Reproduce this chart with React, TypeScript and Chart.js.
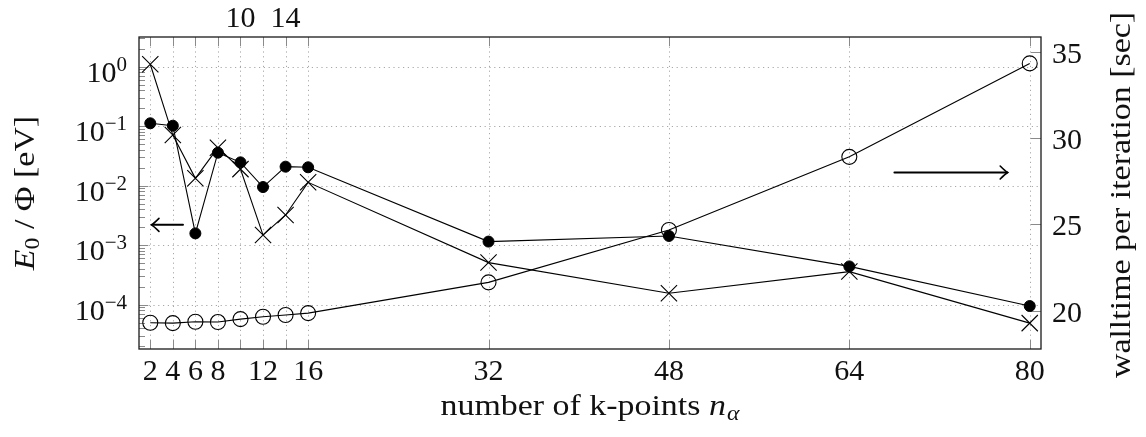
import { useEffect, useRef } from 'react';
import { Chart, registerables } from 'chart.js';

Chart.register(...registerables);

// number of k-points per direction
const kPoints = [2, 4, 6, 8, 10, 12, 14, 16, 32, 48, 64, 80];
// energy deviation E0 [eV] (filled circles)
const e0Values = [0.112, 0.102, 1.58e-3, 0.0359, 0.0247, 9.5e-3, 0.0209, 0.0204, 1.15e-3, 1.43e-3, 4.4e-4, 9.5e-5];
// work function deviation Phi [eV] (crosses)
const phiValues = [1.1, 0.071, 0.0133, 0.0436, 0.019, 1.48e-3, 3.22e-3, 0.0114, 5.1e-4, 1.56e-4, 3.6e-4, 4.9e-5];
// walltime per SCF iteration [sec] (open circles, right axis)
const walltimeValues = [19.3, 19.28, 19.36, 19.34, 19.51, 19.65, 19.75, 19.86, 21.64, 24.67, 28.91, 34.32];

const bottomTickLabels = [2, 4, 6, 8, 12, 16, 32, 48, 64, 80];
const topTickLabels = [10, 14];
const decadeExponents = [0, -1, -2, -3, -4];
const walltimeTicks = [20, 25, 30, 35];

const SERIF = '"Liberation Serif", "Times New Roman", serif';
// axis titles are set slightly wider than the tick numerals
const TITLE_STRETCH = 1.13;

function drawArrow(ctx: CanvasRenderingContext2D, x0: number, y0: number, x1: number, y1: number) {
  const dir = Math.sign(x1 - x0);
  ctx.save();
  ctx.strokeStyle = '#000';
  ctx.lineWidth = 2;
  ctx.lineCap = 'round';
  ctx.beginPath();
  ctx.moveTo(x0, y0);
  ctx.lineTo(x1, y1);
  ctx.stroke();
  ctx.lineWidth = 1.6;
  ctx.beginPath();
  ctx.moveTo(x1 - dir * 7, y1 - 6.5);
  ctx.quadraticCurveTo(x1 - dir * 2, y1 - 1.5, x1 + dir * 0.5, y1);
  ctx.quadraticCurveTo(x1 - dir * 2, y1 + 1.5, x1 - dir * 7, y1 + 6.5);
  ctx.stroke();
  ctx.restore();
}

type Run = { text: string; font: string; dy: number; gap: number };

// draws a run of differently styled text pieces centred on the current origin
function drawRuns(ctx: CanvasRenderingContext2D, runs: Run[]) {
  let total = 0;
  const widths = runs.map((r) => {
    ctx.font = r.font;
    const w = ctx.measureText(r.text).width;
    total += w + r.gap;
    return w;
  });
  let x = -total / 2;
  ctx.textAlign = 'left';
  runs.forEach((r, i) => {
    ctx.font = r.font;
    ctx.fillText(r.text, x, r.dy);
    x += widths[i] + r.gap;
  });
}

const framePlugin = {
  id: 'frame',
  beforeDatasetsDraw(chart: any) {
    const { ctx, chartArea } = chart;
    const { left, right, top, bottom } = chartArea;
    const xs = chart.scales.x;
    const ys = chart.scales.y;
    const y2 = chart.scales.y2;
    ctx.save();
    // dotted grid
    ctx.strokeStyle = '#a8a8a8';
    ctx.lineWidth = 1;
    ctx.setLineDash([1.2, 3.6]);
    for (const v of kPoints) {
      const px = Math.round(xs.getPixelForValue(v)) + 0.5;
      ctx.beginPath();
      ctx.moveTo(px, top);
      ctx.lineTo(px, bottom);
      ctx.stroke();
    }
    for (const e of decadeExponents) {
      const py = Math.round(ys.getPixelForValue(Math.pow(10, e))) + 0.5;
      ctx.beginPath();
      ctx.moveTo(left, py);
      ctx.lineTo(right, py);
      ctx.stroke();
    }
    ctx.setLineDash([]);
    // inward tick marks
    ctx.strokeStyle = '#8a8a8a';
    for (const v of kPoints) {
      const px = Math.round(xs.getPixelForValue(v)) + 0.5;
      ctx.beginPath();
      ctx.moveTo(px, bottom);
      ctx.lineTo(px, bottom - 9);
      ctx.moveTo(px, top);
      ctx.lineTo(px, top + 9);
      ctx.stroke();
    }
    for (let e = -5; e <= 0; e++) {
      for (let m = 1; m <= 9; m++) {
        const v = m * Math.pow(10, e);
        if (v < ys.min || v > ys.max) continue;
        const py = Math.round(ys.getPixelForValue(v)) + 0.5;
        const len = m === 1 ? 9 : 6;
        ctx.beginPath();
        ctx.moveTo(left, py);
        ctx.lineTo(left + len, py);
        ctx.stroke();
      }
    }
    for (const v of walltimeTicks) {
      const py = Math.round(y2.getPixelForValue(v)) + 0.5;
      ctx.beginPath();
      ctx.moveTo(right, py);
      ctx.lineTo(right - 10, py);
      ctx.stroke();
    }
    ctx.restore();
  },
  afterDraw(chart: any) {
    const { ctx, chartArea } = chart;
    const { left, right, top, bottom } = chartArea;
    const xs = chart.scales.x;
    const ys = chart.scales.y;
    const y2 = chart.scales.y2;
    ctx.save();
    // frame
    ctx.strokeStyle = '#1a1a1a';
    ctx.lineWidth = 1.3;
    ctx.strokeRect(left, top, right - left, bottom - top);

    ctx.fillStyle = '#111';
    ctx.font = `30px ${SERIF}`;
    ctx.textBaseline = 'alphabetic';
    ctx.textAlign = 'center';
    for (const v of bottomTickLabels) {
      ctx.fillText(String(v), xs.getPixelForValue(v), bottom + 31);
    }
    for (const v of topTickLabels) {
      ctx.fillText(String(v), xs.getPixelForValue(v), top - 10);
    }
    ctx.textAlign = 'left';
    for (const v of walltimeTicks) {
      ctx.fillText(String(v), right + 11, y2.getPixelForValue(v) + 11);
    }
    // log axis labels 10^e
    const labelRight = left - 12;
    for (const e of decadeExponents) {
      const py = ys.getPixelForValue(Math.pow(10, e));
      const exp = e < 0 ? `\u2212${-e}` : String(e);
      ctx.font = `21px ${SERIF}`;
      ctx.textAlign = 'right';
      ctx.fillText(exp, labelRight, py + 4);
      const w = ctx.measureText(exp).width;
      ctx.font = `30px ${SERIF}`;
      ctx.fillText('10', labelRight - w, py + 15);
    }

    // direction arrows
    drawArrow(ctx, xs.getPixelForValue(4.9), ys.getPixelForValue(2.2e-3), xs.getPixelForValue(2.15), ys.getPixelForValue(2.2e-3));
    drawArrow(ctx, xs.getPixelForValue(68), y2.getPixelForValue(28), xs.getPixelForValue(78), y2.getPixelForValue(28));

    ctx.fillStyle = '#111';
    // bottom axis title: number of k-points n_alpha
    ctx.save();
    ctx.translate((left + right) / 2, 415);
    ctx.scale(TITLE_STRETCH, 1);
    drawRuns(ctx, [
      { text: 'number of k-points ', font: `30px ${SERIF}`, dy: 0, gap: 0 },
      { text: 'n', font: `italic 30px ${SERIF}`, dy: 0, gap: 1 },
      { text: '\u03b1', font: `italic 21px ${SERIF}`, dy: 5, gap: 0 },
    ]);
    ctx.restore();

    // left axis title: E_0 / Phi [eV]
    ctx.save();
    ctx.translate(34, (top + bottom) / 2);
    ctx.rotate(-Math.PI / 2);
    ctx.scale(TITLE_STRETCH, 1);
    drawRuns(ctx, [
      { text: 'E', font: `italic 30px ${SERIF}`, dy: 0, gap: 0 },
      { text: '0', font: `21px ${SERIF}`, dy: 5, gap: 0 },
      { text: ' / \u03a6 [eV]', font: `30px ${SERIF}`, dy: 0, gap: 0 },
    ]);
    ctx.restore();

    // right axis title
    ctx.save();
    ctx.translate(1130, (top + bottom) / 2 + 2);
    ctx.rotate(-Math.PI / 2);
    ctx.scale(TITLE_STRETCH, 1);
    drawRuns(ctx, [{ text: 'walltime per iteration [sec]', font: `30px ${SERIF}`, dy: 0, gap: 0 }]);
    ctx.restore();

    ctx.restore();
  },
};

export default function App() {
  const canvasRef = useRef<HTMLCanvasElement | null>(null);

  useEffect(() => {
    const canvas = canvasRef.current;
    if (!canvas) return;
    const chart = new Chart(canvas, {
      type: 'line',
      data: {
        datasets: [
          {
            label: 'E0',
            data: kPoints.map((k, i) => ({ x: k, y: e0Values[i] })),
            yAxisID: 'y',
            borderColor: '#000',
            borderWidth: 1.1,
            pointStyle: 'circle',
            pointRadius: 5.5,
            pointBorderWidth: 1,
            pointBackgroundColor: '#000',
            pointBorderColor: '#000',
            fill: false,
            tension: 0,
          },
          {
            label: 'Phi',
            data: kPoints.map((k, i) => ({ x: k, y: phiValues[i] })),
            yAxisID: 'y',
            borderColor: '#000',
            borderWidth: 1.1,
            pointStyle: 'crossRot',
            pointRadius: 11.5,
            pointBorderWidth: 1.1,
            pointBorderColor: '#000',
            fill: false,
            tension: 0,
          },
          {
            label: 'walltime',
            data: kPoints.map((k, i) => ({ x: k, y: walltimeValues[i] })),
            yAxisID: 'y2',
            borderColor: '#000',
            borderWidth: 1.1,
            pointStyle: 'circle',
            pointRadius: 7.5,
            pointBorderWidth: 1.1,
            pointBackgroundColor: 'rgba(0,0,0,0)',
            pointBorderColor: '#000',
            fill: false,
            tension: 0,
          },
        ],
      },
      options: {
        responsive: false,
        animation: false,
        devicePixelRatio: 1,
        layout: { padding: { left: 139, right: 105, top: 37, bottom: 88 } },
        scales: {
          x: { type: 'linear', min: 1, max: 81, display: false },
          y: { type: 'logarithmic', min: 1.8e-5, max: 3.16, display: false },
          y2: { type: 'linear', position: 'right', min: 17.78, max: 35.85, display: false },
        },
        plugins: {
          legend: { display: false },
          tooltip: { enabled: false },
        },
      },
      plugins: [framePlugin],
    });
    return () => chart.destroy();
  }, []);

  return (
    <div style={{ position: 'absolute', left: 0, top: 0, width: 1146, height: 437, background: '#fff' }}>
      <canvas ref={canvasRef} width={1146} height={437} />
    </div>
  );
}
